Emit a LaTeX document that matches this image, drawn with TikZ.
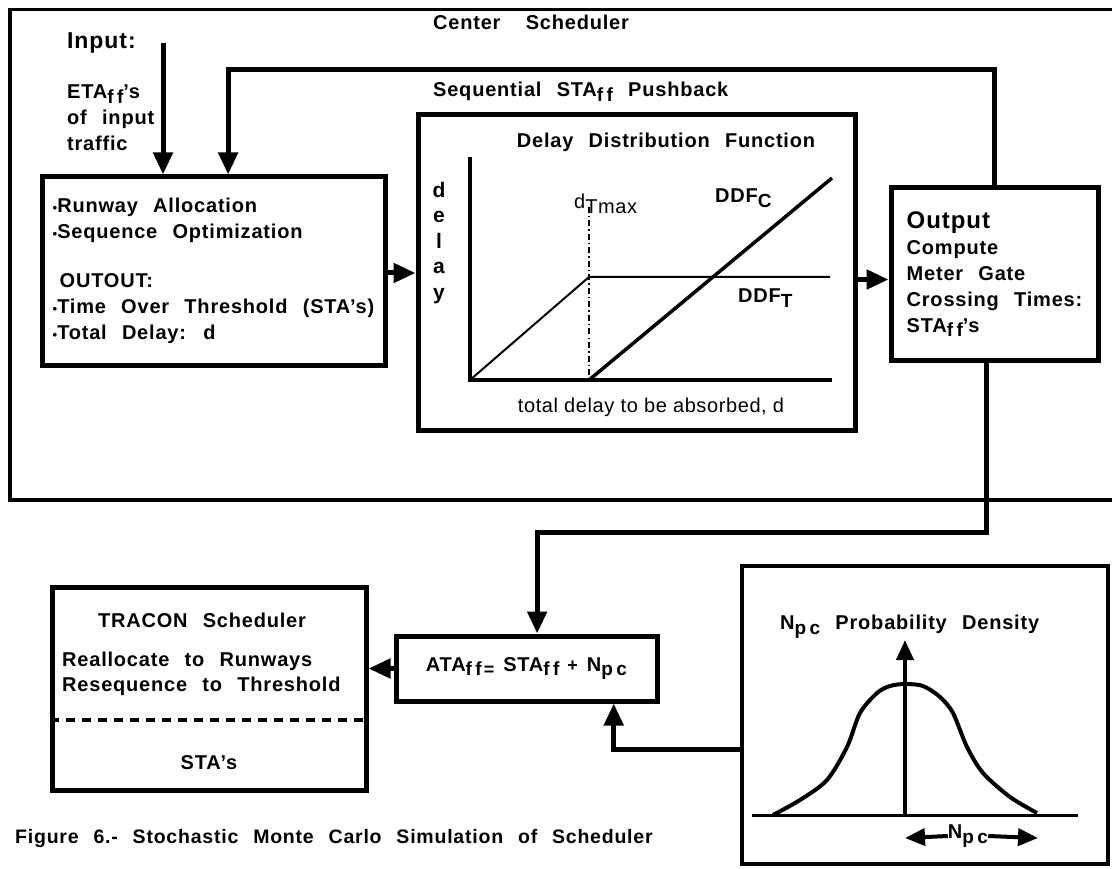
\documentclass[tikz,border=0pt]{standalone}
\usepackage{fontspec}
\setmainfont{Liberation Sans}
\newfontfamily\hvfont{Liberation Sans}[LetterSpace=4,WordSpace=2.4]
\newfontfamily\hvsub{Liberation Sans}[LetterSpace=18]
\newfontfamily\hvplain{Liberation Sans}[LetterSpace=3]
\usetikzlibrary{arrows.meta, positioning, calc}
\newcommand{\lsub}[1]{\raisebox{-0.45ex}{\hvsub\bfseries\fontsize{19}{19}\selectfont #1}}
\newcommand{\blt}{{\fontsize{13}{13}\selectfont\textbullet}}
\newcommand{\smop}[1]{{\fontsize{18}{18}\selectfont #1}}

\begin{document}
\begin{tikzpicture}[
  x=1pt, y=-1pt,
  >={Triangle[length=22pt, width=19pt]},
  every node/.style={font=\hvfont\bfseries\fontsize{20}{26}\selectfont, inner sep=0pt},
  blk/.style={rectangle, draw, line width=5pt},
  flow/.style={->, line width=5pt},
  plainlbl/.style={font=\hvplain\fontsize{20}{24}\selectfont},
  axis/.style={line width=4pt},
]
\useasboundingbox (0,0) rectangle (1112,869);

% ---------- center scheduler frame (open to the right) ----------
\node[draw, line width=3.5pt, minimum width=1125, minimum height=490, anchor=north west] (csched) at (8,8) {};
\node[anchor=west] (cstitle) at (433,22) {Center\hspace{10pt} Scheduler};
\node[anchor=west] (pushlbl) at (433,92) {Sequential STA\lsub{ff} Pushback};

% ---------- input ----------
\node[anchor=west, font=\hvfont\bfseries\fontsize{23}{26}\selectfont] (inplbl) at (67,43) {Input:};
\node[anchor=west, align=left] (inptxt) at (67,118) {ETA\lsub{ff}’s\\ of input\\ traffic};

% ---------- allocation box ----------
\node[blk, minimum width=343, minimum height=188, align=left] (alloc) at (213.5,271)
  {\blt Runway Allocation\\ \blt Sequence Optimization\\[23pt]
   \hspace*{7pt}OUTOUT:\\ \blt Time Over Threshold (STA’s)\\ \blt Total Delay: d};

% ---------- delay distribution function ----------
\node[blk, minimum width=437, minimum height=315] (ddfbox) at (636.5,272.5) {};
\node (ddftitle) at (666,142) {Delay Distribution Function};
\node[align=center, font=\hvfont\bfseries\fontsize{21}{25.5}\selectfont] (ylbl) at (439,243) {d\\e\\l\\a\\y};
\node[plainlbl] (xlbl) at (651,407) {total delay to be absorbed, d};
\coordinate (o) at (470,380);
\coordinate (tmax) at (589,380);
\draw[axis] (470,157) -- (o) -- (832,380);
\draw[line width=1.8pt, dash pattern=on 6pt off 3pt on 1.5pt off 3pt] (589,207) -- (tmax);
\draw[line width=2pt] (o) -- (589,277) -- (830,277);
\draw[line width=3.5pt] (tmax) -- (832,178);
\node[plainlbl, anchor=base west] (dtlbl) at (574,209) {d\raisebox{-5pt}{Tmax}};
\node[anchor=west] (ddfc) at (715,198) {DDF\lsub{C}};
\node[anchor=west] (ddft) at (738,298) {DDF\lsub{T}};

% ---------- output box ----------
\node[blk, minimum width=207, minimum height=172, align=left] (outbox) at (994.5,274)
  {{\fontsize{24}{29}\selectfont Output}\\ Compute\\ Meter Gate\\ Crossing Times:\\ STA\lsub{ff}’s};

% ---------- tracon / perturbation ----------
\node[blk, minimum width=261, minimum height=65] (ata) at (526.5,668.5)
  {ATA\lsub{ff}\hspace{2pt}\raisebox{-0.4ex}{\smop{=}}\hspace{9pt}STA\lsub{ff}\hspace{8pt}\smop{+}\hspace{9pt}N\lsub{pc}};
\node[blk, minimum width=314, minimum height=203] (tracon) at (209,688.5) {};
\node (trtitle) at (202,620) {TRACON Scheduler};
\node[anchor=west, align=left, font=\hvfont\bfseries\fontsize{20}{25}\selectfont] (trtxt) at (62,674)
  {Reallocate to Runways\\ Resequence to Threshold};
\draw[line width=4pt, dash pattern=on 9pt off 7pt] ($(tracon.west)+(0,31.5)$) -- ($(tracon.east)+(0,31.5)$);
\node (trsta) at (209,763) {STA’s};

% ---------- probability density ----------
\node[blk, line width=4.5pt, minimum width=366, minimum height=298] (prob) at (925,715) {};
\node[anchor=west] (probtitle) at (780,627) {N\lsub{pc} Probability Density};
\draw[line width=3pt] (752,815) -- (1078,815);
\draw[line width=4pt] plot[smooth] coordinates {(773,815) (800,800) (827,780) (847,747) (860,713)
  (877,693) (890,686) (905,684) (923,686) (940,697) (953,713) (967,747) (983,773) (1010,797) (1037,813)};
\draw[->, line width=4pt, >={Triangle[length=20pt, width=17pt]}] (905,815) -- (905,640);
\node (npc) at (968,836) {N\lsub{pc}};
\draw[->, line width=4pt, >={Triangle[length=20pt, width=17pt]}] (npc.west) -- (905,838);
\draw[->, line width=4pt, >={Triangle[length=20pt, width=17pt]}] (npc.east) -- (1038,838);

\node[anchor=west, font=\hvfont\bfseries\fontsize{19.5}{24}\selectfont] (caption) at (15,838)
  {Figure 6.- Stochastic Monte Carlo Simulation of Scheduler};

% ---------- connectors ----------
\coordinate (inp) at (163,43);
\draw[flow] (inp) -- (inp |- alloc.north);
\draw[flow] (outbox.north) -- ++(0,-116) -| ($(alloc.north west)!0.542!(alloc.north east)$);
\draw[flow] ($(alloc.east)+(0,2)$) -- ($(alloc.east -| ddfbox.west)+(0,2)$);
\draw[flow] ($(ddfbox.east)+(0,7)$) -- ($(ddfbox.east -| outbox.west)+(0,7)$);
\draw[flow] ($(outbox.south)+(-8,0)$) -- ++(0,170) -| ($(ata.north west)!0.54!(ata.north east)$);
\draw[flow] ($(prob.west)+(0,34)$) -| ($(ata.south west)!0.828!(ata.south east)$);
\draw[flow] (ata.west) -- (ata.west -| tracon.east);

\end{tikzpicture}
\end{document}
